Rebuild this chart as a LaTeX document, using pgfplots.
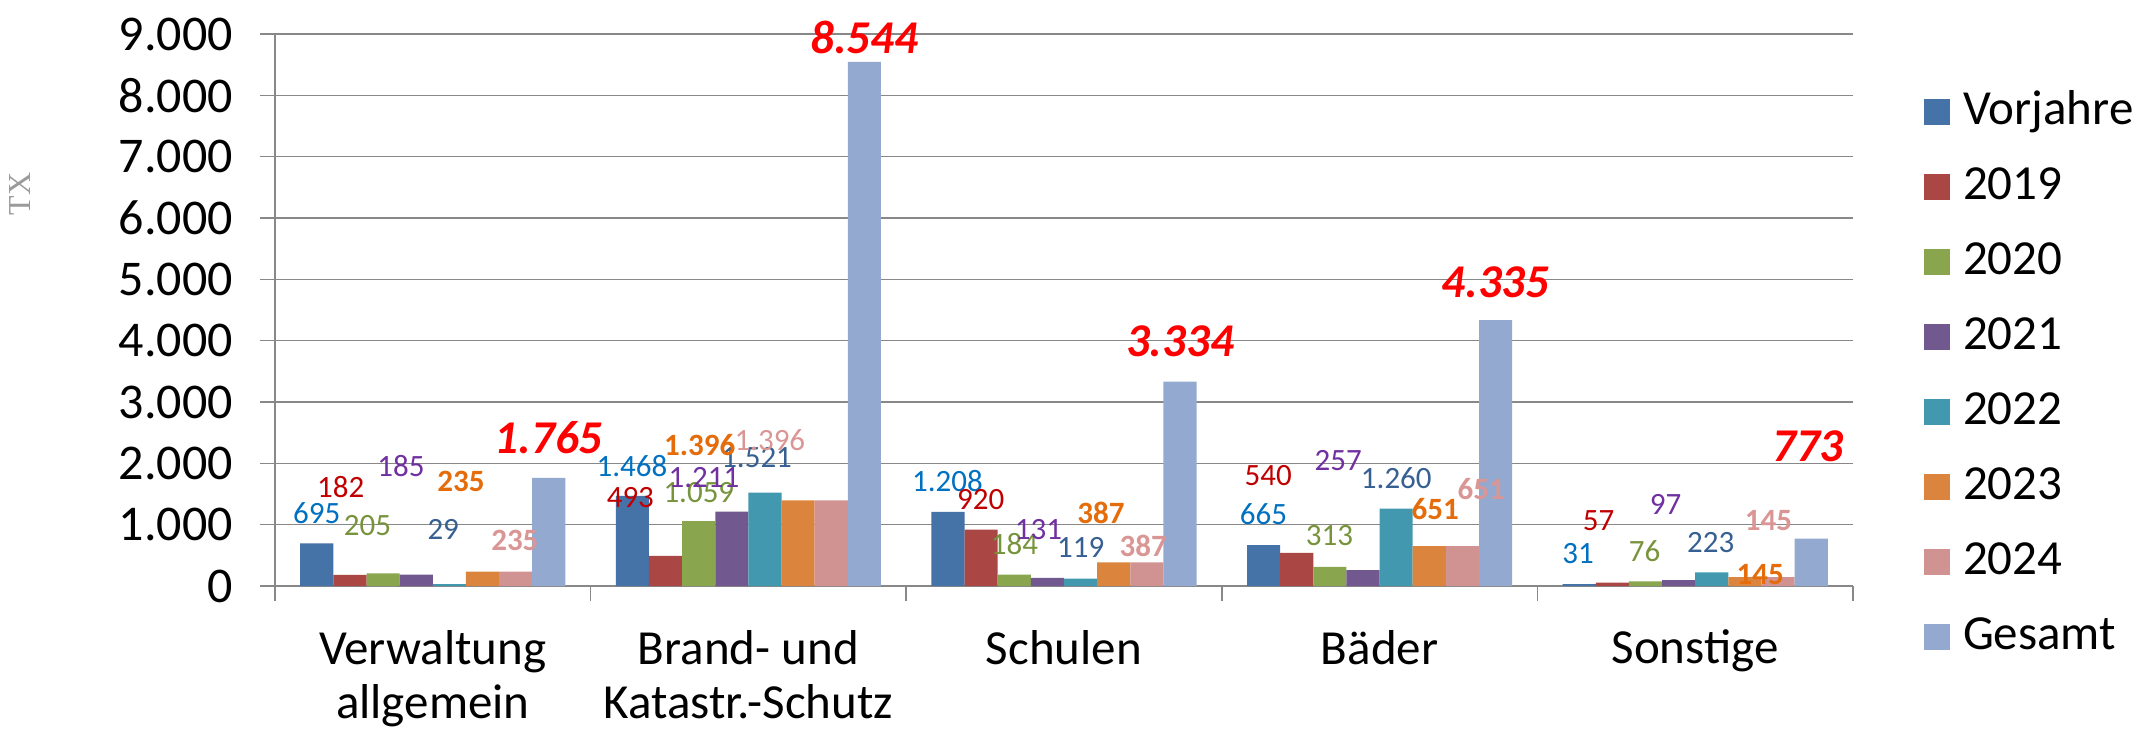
\documentclass[border=0pt]{standalone}
\usepackage{pgfplots}
\pgfplotsset{compat=1.18}
\usepackage{fontspec}
\setmainfont{Carlito}
\newfontfamily\seriffont{Liberation Serif}
\definecolor{cVor}{HTML}{4572A7}
\definecolor{c19}{HTML}{AA4643}
\definecolor{c20}{HTML}{89A54E}
\definecolor{c21}{HTML}{71588F}
\definecolor{c22}{HTML}{4198AF}
\definecolor{c23}{HTML}{DB843D}
\definecolor{c24}{HTML}{D19392}
\definecolor{cGes}{HTML}{93A9CF}
\definecolor{lVor}{HTML}{0070C0}
\definecolor{l19}{HTML}{C00000}
\definecolor{l20}{HTML}{77933C}
\definecolor{l21}{HTML}{7030A0}
\definecolor{l22}{HTML}{376092}
\definecolor{l23}{HTML}{E46C0A}
\definecolor{l24}{HTML}{D99694}
\definecolor{lGes}{HTML}{FF0000}
\definecolor{gridgray}{HTML}{888888}
\definecolor{labgray}{HTML}{9A9A9A}
\tikzset{
  lbl/.style={inner sep=0pt, anchor=center, font=\fontsize{15.5}{18}\selectfont},
  lblb/.style={inner sep=0pt, anchor=center, font=\fontsize{15.5}{18}\selectfont\bfseries},
  lblg/.style={inner sep=0pt, anchor=center, text=lGes, font=\fontsize{23.5}{28}\selectfont\bfseries\itshape},
}
\begin{document}
\begin{tikzpicture}
\useasboundingbox (0,0) rectangle (1069pt,365pt);
\begin{axis}[
  at={(137.5pt,72pt)}, anchor=south west,
  scale only axis, width=789pt, height=276pt,
  xmin=-0.5, xmax=4.5, ymin=0, ymax=9000,
  ybar, bar width=0.105,
  axis x line*=bottom, axis y line*=left,
  axis line style={draw=gridgray, line width=1pt},
  ytick={0,1000,...,9000},
  yticklabels={0,1.000,2.000,3.000,4.000,5.000,6.000,7.000,8.000,9.000},
  ymajorgrids, grid style={draw=gridgray, line width=0.8pt},
  xtick={0,1,2,3,4},
  xticklabels={{Verwaltung\\allgemein},{Brand- und\\Katastr.-Schutz},Schulen,Bäder,Sonstige},
  minor xtick={-0.5,0.5,1.5,2.5,3.5,4.5},
  tick align=outside,
  major tick length=7.5pt, minor tick length=7.5pt,
  tick style={draw=gridgray, line width=0.8pt},
  major x tick style={draw=none},
  xticklabel style={align=center, anchor=north, yshift=-11pt, font=\fontsize{24.5}{27}\selectfont},
  yticklabel style={xshift=-10pt, font=\fontsize{25}{28}\selectfont},
  ylabel={TX},
  ylabel style={font=\seriffont\fontsize{16}{18}\selectfont, text=labgray, at={(axis description cs:-0.1616,0.710)}, anchor=center},
  clip=false,
  legend style={draw=none, fill=none, font=\fontsize{24.5}{29}\selectfont,
    at={(axis description cs:1.045,0.8995)}, anchor=north west,
    inner sep=0pt, outer sep=0pt, row sep=15pt, column sep=6.5pt,
    nodes={inner sep=0pt, text height=17.5pt, text depth=5pt}},
  legend cell align=left,
  legend image code/.code={\fill[#1] (0pt,-6.5pt) rectangle (13pt,6.5pt);},
]
\addplot[fill=cVor, draw=none, bar shift=-0.3675] coordinates {(0,695) (1,1468) (2,1208) (3,665) (4,31)};
\addplot[fill=c19, draw=none, bar shift=-0.2625] coordinates {(0,182) (1,493) (2,920) (3,540) (4,57)};
\addplot[fill=c20, draw=none, bar shift=-0.1575] coordinates {(0,205) (1,1059) (2,184) (3,313) (4,76)};
\addplot[fill=c21, draw=none, bar shift=-0.0525] coordinates {(0,185) (1,1211) (2,131) (3,257) (4,97)};
\addplot[fill=c22, draw=none, bar shift=0.0525] coordinates {(0,29) (1,1521) (2,119) (3,1260) (4,223)};
\addplot[fill=c23, draw=none, bar shift=0.1575] coordinates {(0,235) (1,1396) (2,387) (3,651) (4,145)};
\addplot[fill=c24, draw=none, bar shift=0.2625] coordinates {(0,235) (1,1396) (2,387) (3,651) (4,145)};
\addplot[fill=cGes, draw=none, bar shift=0.3675] coordinates {(0,1765) (1,8544) (2,3334) (3,4335) (4,773)};
\legend{Vorjahre,2019,2020,2021,2022,2023,2024,Gesamt}
% Verwaltung
\node[lbl, text=lVor] at (axis cs:-0.368,1185) {695};
\node[lbl, text=l19] at (axis cs:-0.2915,1606) {182};
\node[lbl, text=l20] at (axis cs:-0.207,982) {205};
\node[lbl, text=l21] at (axis cs:-0.101,1960) {185};
\node[lbl, text=l22] at (axis cs:0.033,926) {29};
\node[lblb, text=l23] at (axis cs:0.089,1701) {235};
\node[lblb, text=l24] at (axis cs:0.260,737) {235};
\node[lblg] at (axis cs:0.3675,2413) {1.765};
% Brand
\node[lbl, text=lVor] at (axis cs:0.631,1960) {1.468};
\node[lbl, text=l19] at (axis cs:0.626,1443) {493};
\node[lbl, text=l20] at (axis cs:0.843,1524) {1.059};
\node[lbl, text=l21] at (axis cs:0.859,1769) {1.211};
\node[lbl, text=l22] at (axis cs:1.026,2095) {1.521};
\node[lblb, text=l23] at (axis cs:0.846,2299) {1.396};
\node[lbl, text=l24] at (axis cs:1.068,2380) {1.396};
\node[lblg] at (axis cs:1.3675,8951) {8.544};
% Schulen
\node[lbl, text=lVor] at (axis cs:1.631,1715) {1.208};
\node[lbl, text=l19] at (axis cs:1.736,1415) {920};
\node[lbl, text=l20] at (axis cs:1.843,682) {184};
\node[lbl, text=l21] at (axis cs:1.919,926) {131};
\node[lbl, text=l22] at (axis cs:2.053,628) {119};
\node[lblb, text=l23] at (axis cs:2.117,1198) {387};
\node[lblb, text=l24] at (axis cs:2.251,655) {387};
\node[lblg] at (axis cs:2.3675,3995) {3.334};
% Baeder
\node[lbl, text=lVor] at (axis cs:2.632,1171) {665};
\node[lbl, text=l19] at (axis cs:2.647,1797) {540};
\node[lbl, text=l20] at (axis cs:2.841,819) {313};
\node[lbl, text=l21] at (axis cs:2.869,2041) {257};
\node[lbl, text=l22] at (axis cs:3.053,1764) {1.260};
\node[lblb, text=l23] at (axis cs:3.176,1252) {651};
\node[lblb, text=l24] at (axis cs:3.322,1578) {651};
\node[lblg] at (axis cs:3.3675,4949) {4.335};
% Sonstige
\node[lbl, text=lVor] at (axis cs:3.629,533) {31};
\node[lbl, text=l19] at (axis cs:3.694,1063) {57};
\node[lbl, text=l20] at (axis cs:3.840,574) {76};
\node[lbl, text=l21] at (axis cs:3.906,1334) {97};
\node[lbl, text=l22] at (axis cs:4.049,709) {223};
\node[lblb, text=l23] at (axis cs:4.206,192) {145};
\node[lblb, text=l24] at (axis cs:4.232,1063) {145};
\node[lblg] at (axis cs:4.3575,2286) {773};
\end{axis}
\end{tikzpicture}
\end{document}
